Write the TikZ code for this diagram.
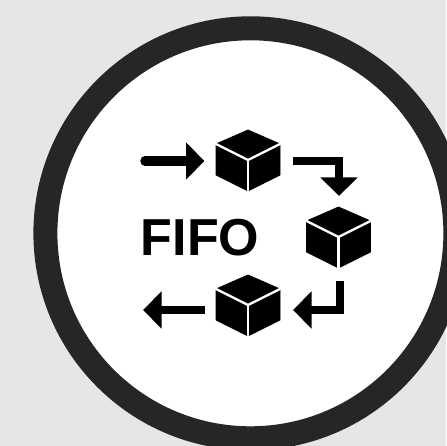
\documentclass[tikz,border=0pt]{standalone}
\usepackage{fontspec}
\setmainfont{Liberation Sans}
\definecolor{bggray}{RGB}{230,230,230}
\definecolor{ringdark}{RGB}{38,38,38}
\usetikzlibrary{arrows.meta,positioning}

\begin{document}
\begin{tikzpicture}[
  x=1pt, y=-1pt,
  ring/.style={draw=ringdark, line width=24pt, fill=white},
  arr/.style={-{Triangle[length=18.5pt, width=36pt]}, line width=8pt, draw=black},
  title/.style={font=\fontsize{52}{52}\selectfont\bfseries, inner sep=0pt, text=black},
  cube/.pic={
    \fill[black, draw=black, line width=0.8pt, line join=round]
      (0,-30) -- (32,-16) -- (32,15) -- (0,31) -- (-32,15) -- (-32,-16) -- cycle;
    \draw[white, line width=2.4pt] (-34,-17) -- (0,0) -- (34,-17);
    \draw[white, line width=2.4pt] (0,0) -- (0,33);
  }
]
% Background and ring
\useasboundingbox (0,0) rectangle (446,446);
\fill[bggray] (0,0) rectangle (446,446);
\draw[ring] (250.4,233.3) circle (205);

% Cubes
\pic (cubeA) at (248,160) {cube};
\pic (cubeB) at (338.5,237) {cube};
\pic (cubeC) at (248,305) {cube};

% Text
\node[title] (fifo) at (200,237.5) {FIFO};

% Arrow ends
\coordinate (inS)   at (145,161);
\coordinate (inE)   at (204.5,161);
\coordinate (downS) at (293,161);
\coordinate (downE) at (339,196);
\coordinate (backS) at (340,281);
\coordinate (backE) at (293,310);
\coordinate (outS)  at (205,310);
\coordinate (outE)  at (143,310);

% Arrows
\draw[arr, line width=9.5pt, line cap=round] (inS) -- (inE);
\draw[arr] (downS) -| (downE);
\draw[arr] (backS) |- (backE);
\draw[arr] (outS) -- (outE);
\end{tikzpicture}
\end{document}
